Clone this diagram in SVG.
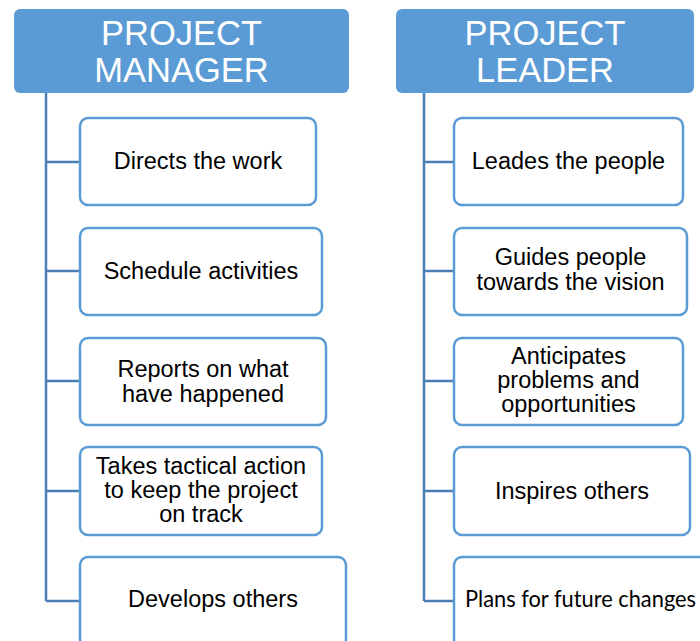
<svg xmlns="http://www.w3.org/2000/svg" width="700" height="641" viewBox="0 0 700 641">
  <style>
    .hdr { fill: #5B9BD5; }
    .hdr-text { font-family: "Liberation Sans", Arial, sans-serif; font-size: 34.5px; fill: #ffffff; text-anchor: middle; }
    .box { fill: #ffffff; stroke: #5B9BD5; stroke-width: 2.5; }
    .txt { font-family: "Liberation Sans", Arial, sans-serif; font-size: 23.5px; fill: #000000; text-anchor: middle; }
    .txt-c { font-family: Lato, "Noto Sans", sans-serif; font-size: 23px; fill: #000000; }
    .conn { fill: none; stroke: #4A7EB5; stroke-width: 2.5; }
  </style>

  <!-- tree connectors -->
  <g id="connectors">
    <path class="conn" d="M46,93 V601 M46,162 H80 M46,271 H80 M46,381 H80 M46,491 H80 M46,601 H80"/>
    <path class="conn" d="M424,93 V601 M424,162 H454 M424,271 H454 M424,381 H454 M424,491 H454 M424,601 H454"/>
  </g>

  <!-- left column -->
  <g id="project-manager">
    <rect class="hdr" x="14" y="9" width="335" height="84" rx="6"/>
    <text class="hdr-text" x="181.5" y="45">PROJECT</text>
    <text class="hdr-text" x="181.5" y="82">MANAGER</text>
  </g>
  <g id="pm-directs">
    <rect class="box" x="80" y="118" width="236" height="87" rx="8"/>
    <text class="txt" x="198" y="169">Directs the work</text>
  </g>
  <g id="pm-schedule">
    <rect class="box" x="80" y="228" width="242" height="87" rx="8"/>
    <text class="txt" x="201" y="278.5">Schedule activities</text>
  </g>
  <g id="pm-reports">
    <rect class="box" x="80" y="338" width="246" height="87" rx="8"/>
    <text class="txt" x="203" y="377">Reports on what</text>
    <text class="txt" x="203" y="402">have happened</text>
  </g>
  <g id="pm-tactical">
    <rect class="box" x="80" y="447" width="242" height="88" rx="8"/>
    <text class="txt" x="201" y="473.5">Takes tactical action</text>
    <text class="txt" x="201" y="498">to keep the project</text>
    <text class="txt" x="201" y="522">on track</text>
  </g>
  <g id="pm-develops">
    <rect class="box" x="80" y="557" width="266" height="90" rx="8"/>
    <text class="txt" x="213" y="607">Develops others</text>
  </g>

  <!-- right column -->
  <g id="project-leader">
    <rect class="hdr" x="396" y="9" width="298" height="84" rx="6"/>
    <text class="hdr-text" x="545" y="45">PROJECT</text>
    <text class="hdr-text" x="545" y="82">LEADER</text>
  </g>
  <g id="pl-leads">
    <rect class="box" x="454" y="118" width="229" height="87" rx="8"/>
    <text class="txt" x="568.5" y="168.5">Leades the people</text>
  </g>
  <g id="pl-guides">
    <rect class="box" x="454" y="228" width="233" height="87" rx="8"/>
    <text class="txt" x="570.5" y="265">Guides people</text>
    <text class="txt" x="570.5" y="290">towards the vision</text>
  </g>
  <g id="pl-anticipates">
    <rect class="box" x="454" y="338" width="229" height="87" rx="8"/>
    <text class="txt" x="568.5" y="363.5">Anticipates</text>
    <text class="txt" x="568.5" y="388">problems and</text>
    <text class="txt" x="568.5" y="412">opportunities</text>
  </g>
  <g id="pl-inspires">
    <rect class="box" x="454" y="447" width="236" height="88" rx="8"/>
    <text class="txt" x="572" y="498.5">Inspires others</text>
  </g>
  <g id="pl-plans">
    <rect class="box" x="454" y="557" width="270" height="90" rx="8"/>
    <text class="txt-c" x="465" y="607" textLength="231" lengthAdjust="spacingAndGlyphs">Plans for future changes</text>
  </g>
</svg>
